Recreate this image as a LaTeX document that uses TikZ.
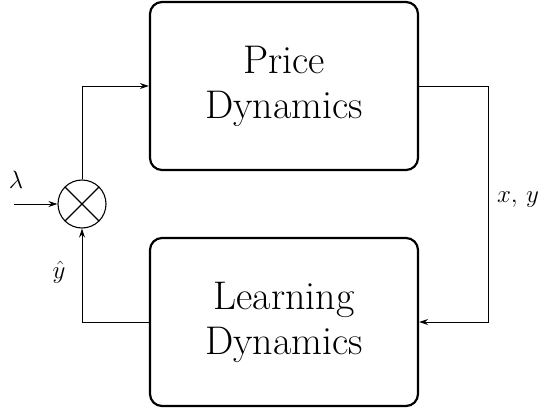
\RequirePackage{fix-cm}
\documentclass[tikz,border=0pt]{standalone}
\usetikzlibrary{arrows.meta}
\begin{document}
\begin{tikzpicture}[x=1pt,y=-1pt,
  blockbox/.style={draw,line width=2.2pt,rounded corners=12pt,minimum width=268pt,minimum height=168pt,align=center,font=\fontsize{40}{45}\selectfont},
  conn/.style={line width=0.9pt},
  arr/.style={conn,-{Stealth[length=9pt,width=6pt]}},
  lbl/.style={inner sep=1pt,font=\fontsize{25}{28}\selectfont}]
\useasboundingbox (0,0) rectangle (548,409);
\node[blockbox] (price) at (284,86) {Price\\Dynamics};
\node[blockbox] (learn) at (284,322) {Learning\\Dynamics};
\node[draw,circle,line width=1.1pt,minimum size=48pt,inner sep=0pt] (sum) at (82,204) {};
\draw[line width=1.1pt] (sum.north west) -- (sum.south east) (sum.north east) -- (sum.south west);
\coordinate (lin) at (14,204);
\coordinate (c1) at (82,86);
\coordinate (c2) at (488,86);
\coordinate (c3) at (488,322);
\coordinate (c4) at (82,322);
\draw[arr] (lin) -- (sum.west);
\draw[arr] (sum.north) -- (c1) -- (price.west);
\draw[arr] (price.east) -- (c2) -- (c3) -- (learn.east);
\draw[arr] (learn.west) -- (c4) -- (sum.south);
\node[lbl] (lam) at (16,180) {$\lambda$};
\node[lbl] (yhat) at (59,272) {$\hat y$};
\node[lbl] (xy) at (518,200) {$x,\,y$};
\end{tikzpicture}
\end{document}
